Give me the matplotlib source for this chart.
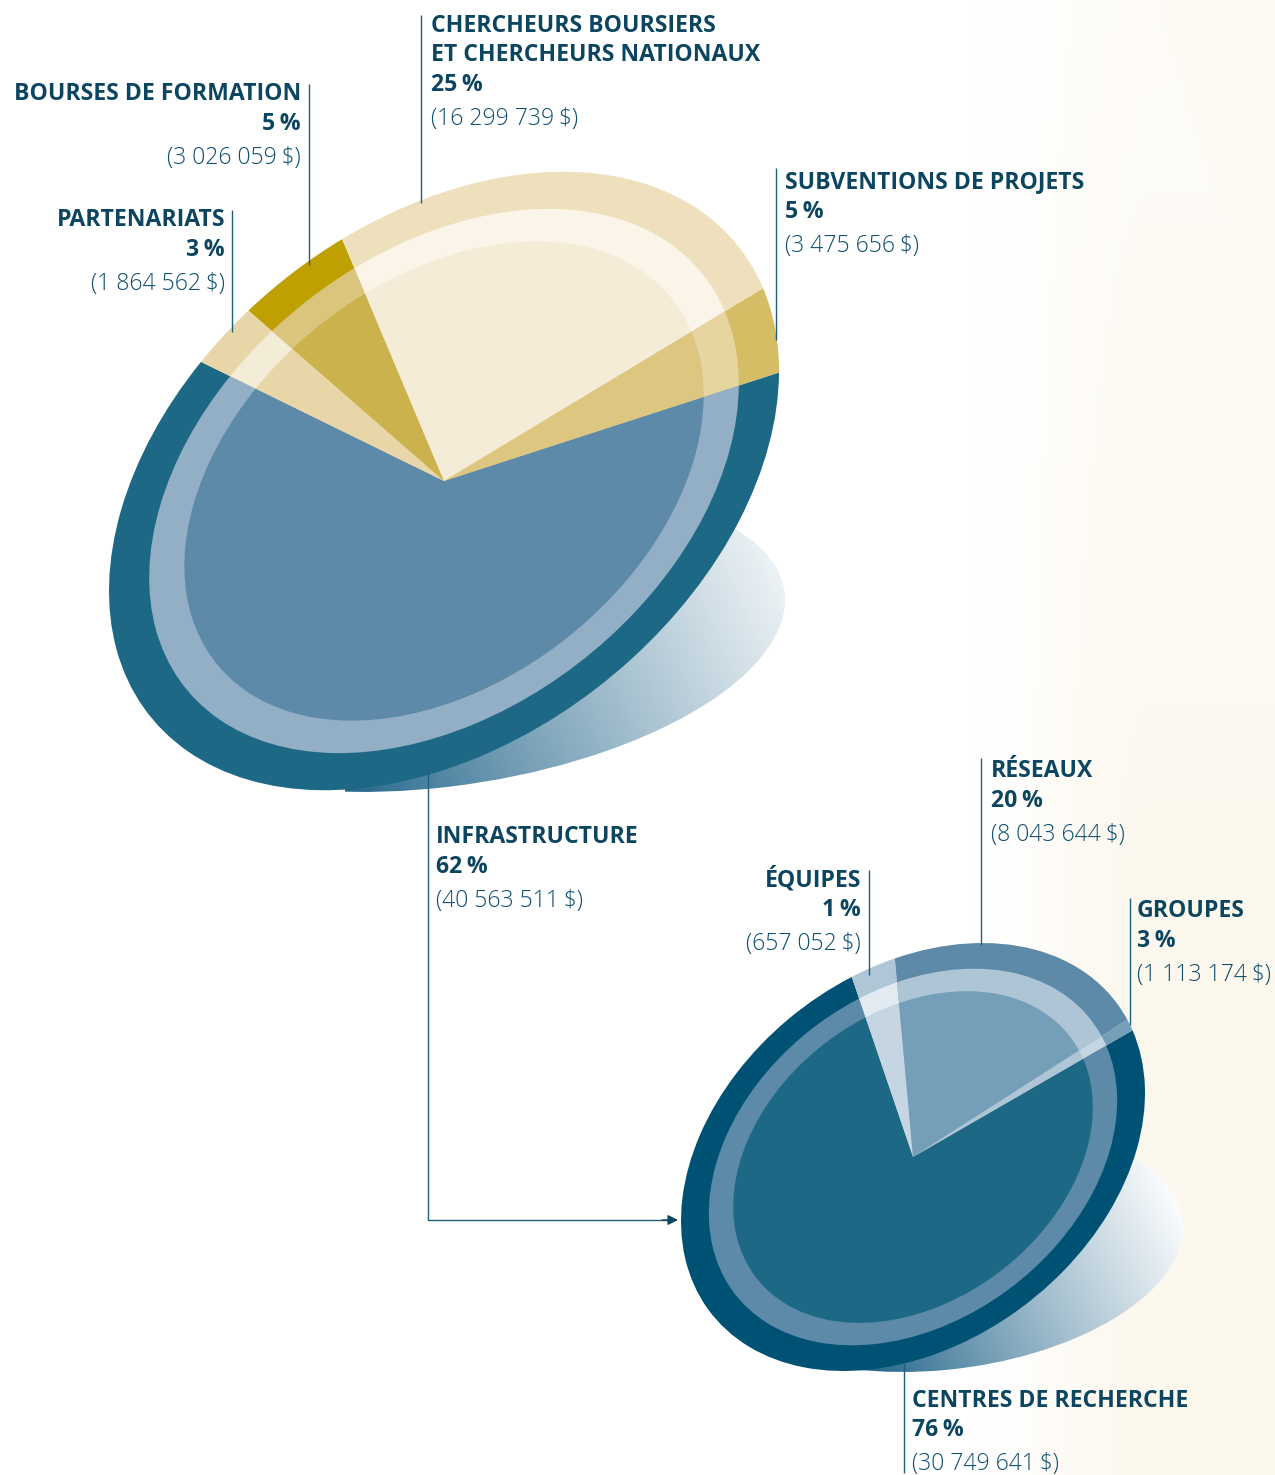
import numpy as np
import matplotlib
matplotlib.use("Agg")
import matplotlib.pyplot as plt
from matplotlib.patches import Circle
from matplotlib.transforms import Affine2D

W, H = 1275, 1475
plt.rcParams['font.family'] = ['Open Sans', 'Noto Sans', 'DejaVu Sans']

# top pie
main_names = ['INFRASTRUCTURE', 'PARTENARIATS', 'BOURSES DE FORMATION',
              'CHERCHEURS BOURSIERS\nET CHERCHEURS NATIONAUX', 'SUBVENTIONS DE PROJETS']
main_pct = [62, 3, 5, 25, 5]
main_amounts = [40563511, 1864562, 3026059, 16299739, 3475656]

# bottom pie, labels as printed
infra_names = ['CENTRES DE RECHERCHE', 'ÉQUIPES', 'RÉSEAUX', 'GROUPES']
infra_pct = [76, 1, 20, 3]
infra_amounts = [30749641, 657052, 8043644, 1113174]
# drawn sizes: the slice under the ÉQUIPES leader is the 3 % one, the sliver under GROUPES the 1 %
infra_slices = [76, 3, 20, 1]

# ring colours, outer / middle / inner, per slice
main_colors = [['#1c6885', '#92afc5', '#5c8aa8'],
               ['#e8d6a8', '#f3ecd6', '#e8d6a8'],
               ['#bea000', '#dbc47c', '#ccb24c'],
               ['#eee0bc', '#fbf4e8', '#f4ecd6'],
               ['#d5bd66', '#e6d5a0', '#dcc680']]
infra_colors = [['#005274', '#5c8aa8', '#1c6885'],
                ['#afc6d6', '#e3ebf2', '#c5d6e2'],
                ['#5c8aa8', '#aec5d6', '#759fb8'],
                ['#759fb8', '#c5d6e2', '#aec5d6']]
ring_radii = [1.0, 0.88, 0.775]

DARK = '#0b4560'
MID = '#0f4f6e'
LINE = '#1f5f7e'
FS = 16.6


def skew(cx, cy, hw, off, r):
    return Affine2D.from_values(hw, off, 0, r, cx, cy)


def fmt_money(v):
    s = f'{v:,}'.replace(',', ' ')
    return '(' + s + '\u2009$)'


def draw_pie(ax, values, colors, tr, start):
    for i, rad in enumerate(ring_radii):
        wedges, _ = ax.pie(values, radius=rad, startangle=start, counterclock=True,
                           colors=[c[i] for c in colors], wedgeprops={'linewidth': 0})
        for w in wedges:
            w.set_transform(tr + ax.transData)
            w.set_zorder(3 + i)


def draw_shadow(ax, tr, p0, p1, c0, c1, xmin):
    yy, xx = np.mgrid[0:H, 0:W]
    dx, dy = p1[0] - p0[0], p1[1] - p0[1]
    t = ((xx - p0[0]) * dx + (yy - p0[1]) * dy) / (dx * dx + dy * dy)
    t = np.clip(t, 0, 1) ** 0.85
    # the fine diagonal screen of the print
    t = np.clip(t + 0.03 * np.sin((xx + yy) * 2 * np.pi / 3.0) * (1 - t), 0, 1)
    c0 = np.array(matplotlib.colors.to_rgb(c0))
    c1 = np.array(matplotlib.colors.to_rgb(c1))
    img = np.ones((H, W, 4))
    img[..., :3] = c0 + (c1 - c0) * t[..., None]
    # the far end stays hidden behind the pie
    img[..., 3] = (xx >= xmin) * 1.0
    im = ax.imshow(img, extent=(0, W, H, 0), zorder=2, interpolation='nearest')
    clip = Circle((0, 0), 1, transform=tr + ax.transData, fc='none', ec='none')
    ax.add_patch(clip)
    im.set_clip_path(clip)


def label(ax, x, ys, name, pct, amount, ha='left'):
    lines = name.split('\n')
    for y, txt in zip(ys, lines):
        ax.text(x, y, txt, ha=ha, va='baseline', fontsize=FS, fontweight='bold', color=DARK, zorder=8)
    ax.text(x, ys[len(lines)], f'{pct}\u2009%', ha=ha, va='baseline', fontsize=FS,
            fontweight='bold', color=DARK, zorder=8)
    ax.text(x, ys[len(lines) + 1], fmt_money(amount), ha=ha, va='baseline', fontsize=FS,
            fontweight='light', color=MID, zorder=8)


fig = plt.figure(figsize=(W / 100, H / 100), dpi=100)
ax = fig.add_axes([0, 0, 1, 1])

# cream wash on the right of the page
yy, xx = np.mgrid[0:H, 0:W]
wash = np.clip((xx - 970) / 180, 0, 1)
wash = wash * wash * (3 - 2 * wash)
wash = wash * (0.45 + 0.55 * np.clip(yy / 900, 0, 1))
band = np.clip((xx - (1130 + 0.45 * yy)) / 60, 0, 1) * 0.25
wash = np.clip(wash + band, 0, 1)
bg = np.ones((H, W, 3))
cream = np.array([0xfd, 0xf8, 0xee]) / 255
for k in range(3):
    bg[..., k] = 1 + (cream[k] - 1) * wash
ax.imshow(bg, extent=(0, W, H, 0), zorder=0, interpolation='bilinear')

draw_shadow(ax, skew(450, 640, 335, -40, 146.6), (330, 790), (785, 580), '#1a5f85', '#eef3f6', 345)
draw_shadow(ax, skew(945, 1249, 238, -22, 121.0), (860, 1372), (1183, 1215), '#1a5f85', '#fbfcfd', 860)

draw_pie(ax, main_pct, main_colors, skew(444, 481, 335, -110, 289), 0.3)
draw_pie(ax, infra_slices, infra_colors, skew(913, 1157, 232, -64, 204.2), -18.9)

# leaders
leaders = [([232, 232], [210, 332]), ([309, 309], [84, 265]), ([421, 421], [15, 203]),
           ([776, 776], [168, 340]), ([869, 869], [870, 975]), ([981, 981], [758, 945]),
           ([1130, 1130], [898, 1025]), ([904, 904], [1362, 1473])]
for xs, ys in leaders:
    ax.plot(xs, ys, color=LINE, lw=1.0, zorder=7, solid_capstyle='butt')
ax.plot([428, 428, 668], [770, 1220, 1220], color=LINE, lw=1.0, zorder=7, solid_joinstyle='miter')
ax.annotate('', xy=(678, 1220), xytext=(662, 1220), zorder=7,
            arrowprops=dict(arrowstyle='-|>', color=DARK, lw=1.0, shrinkA=0, shrinkB=0, mutation_scale=15))

# labels
label(ax, 436, [843, 873, 907], main_names[0], main_pct[0], main_amounts[0])
label(ax, 225, [226, 256, 290], main_names[1], main_pct[1], main_amounts[1], ha='right')
label(ax, 301, [100, 130, 164], main_names[2], main_pct[2], main_amounts[2], ha='right')
label(ax, 431, [32, 61, 91, 125], main_names[3], main_pct[3], main_amounts[3])
label(ax, 785, [188, 218, 252], main_names[4], main_pct[4], main_amounts[4])
label(ax, 912, [1407, 1436, 1470], infra_names[0], infra_pct[0], infra_amounts[0])
label(ax, 861, [886, 916, 950], infra_names[1], infra_pct[1], infra_amounts[1], ha='right')
label(ax, 991, [777, 807, 841], infra_names[2], infra_pct[2], infra_amounts[2])
label(ax, 1137, [917, 947, 981], infra_names[3], infra_pct[3], infra_amounts[3])

ax.set_aspect('auto')
ax.set_xlim(0, W)
ax.set_ylim(H, 0)
ax.axis('off')

fig.savefig('out.png', dpi=100)
